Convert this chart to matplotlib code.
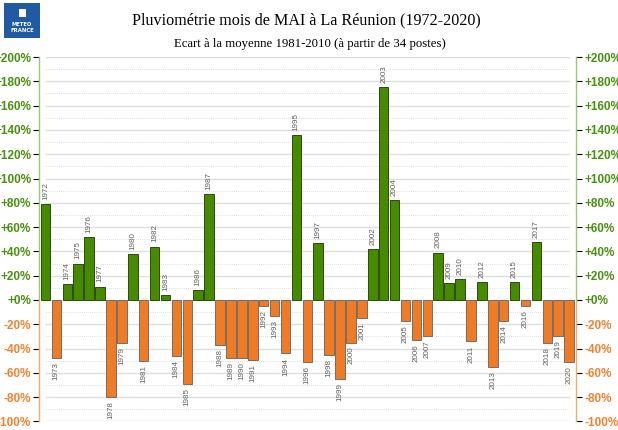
import matplotlib.pyplot as plt
from matplotlib.patches import Rectangle

YEARS = list(range(1972, 2021))
ECART = [
    79, -48, 13, 30, 52, 11, -80, -35, 38, -50,
    44, 4, -46, -69, 8, 87, -37, -48, -48, -49,
    -5, -13, -44, 136, -51, 47, -45, -65, -35, -15,
    42, 175, 82, -17, -33, -30, 39, 14, 17, -34,
    15, -55, -17, 15, -5, 48, -35, -30, -51,
]
TICKS = list(range(-100, 201, 20))
TICK_LABELS = [f"+{t}%" if t >= 0 else f"{t}%" for t in TICKS]

GREEN = "#468a00"
GREEN_EDGE = "#2e4a12"
ORANGE = "#f07b24"
ORANGE_EDGE = "#6f6f6f"
GREEN_TXT = "#4a9010"
ORANGE_TXT = "#f3822e"
GREEN_AX = "#9cc878"
ORANGE_AX = "#f6aa70"
BLUE = "#1f5aa2"


def main():
    fig = plt.figure(figsize=(6.18, 4.30), dpi=100)
    ax = fig.add_axes([0.0639, 0.0198, 0.8676, 0.8476])
    ax.set_xlim(1971.45, 2020.6)
    ax.set_ylim(-100, 200)

    # grid: solid every 20%, dotted in between
    for t in TICKS:
        ax.axhline(t, xmin=0.012, xmax=0.988, color="#dedede", linewidth=1.0, zorder=0)
    for t in range(-90, 200, 20):
        ax.axhline(t, xmin=0.012, xmax=0.988, color="#d4d4d4", linewidth=0.6,
                   linestyle=(0, (1, 1.5)), zorder=0)

    colors = [GREEN if v >= 0 else ORANGE for v in ECART]
    edges = [GREEN_EDGE if v >= 0 else ORANGE_EDGE for v in ECART]
    ax.bar(YEARS, ECART, width=0.88, color=colors, edgecolor=edges, linewidth=0.7, zorder=2)

    for y, v in zip(YEARS, ECART):
        if v >= 0:
            ax.annotate(str(y), (y, v), xytext=(0, 3), textcoords="offset points",
                        rotation=90, ha="center", va="bottom", fontsize=5.8,
                        color="#606060", family="Liberation Sans")
        else:
            ax.annotate(str(y), (y, v), xytext=(0, -3), textcoords="offset points",
                        rotation=90, ha="center", va="top", fontsize=5.8,
                        color="#606060", family="Liberation Sans")

    for s in ax.spines.values():
        s.set_visible(False)
    ax.set_xticks([])

    # coloured axis lines, both sides
    tr = ax.get_yaxis_transform()
    for xa in (0, 1):
        ax.plot([xa, xa], [0, 200], transform=tr, color=GREEN_AX, linewidth=1.0, clip_on=False)
        ax.plot([xa, xa], [-100, 0], transform=tr, color=ORANGE_AX, linewidth=1.0, clip_on=False)

    ax.set_yticks(TICKS)
    ax.set_yticklabels(TICK_LABELS)
    ax.tick_params(axis="y", left=True, right=True, labelleft=True, labelright=True,
                   length=4, width=0.8, pad=2)
    for t, tick in zip(TICKS, ax.yaxis.get_major_ticks()):
        c_txt = GREEN_TXT if t >= 0 else ORANGE_TXT
        c_ax = GREEN_AX if t >= 0 else ORANGE_AX
        tick.tick1line.set_color(c_ax)
        tick.tick2line.set_color(c_ax)
        for lab in (tick.label1, tick.label2):
            lab.set_color(c_txt)
            lab.set_fontweight("bold")
            lab.set_fontsize(8.5)
            lab.set_fontfamily("Liberation Sans")

    fig.text(0.495, 0.953, "Pluviométrie mois de MAI à La Réunion (1972-2020)",
             ha="center", va="center", fontsize=11.6, family="Liberation Serif")
    fig.text(0.501, 0.897, "Ecart à la moyenne 1981-2010 (à partir de 34 postes)",
             ha="center", va="center", fontsize=9.2, family="Liberation Serif")

    # Meteo-France logo block
    fig.patches.append(Rectangle((4 / 618, 1 - 38 / 430), 36 / 618, 35 / 430,
                                 transform=fig.transFigure, facecolor=BLUE, edgecolor="none"))
    fig.patches.append(Rectangle((18.5 / 618, 1 - 17 / 430), 7 / 618, 8 / 430,
                                 transform=fig.transFigure, facecolor="white", edgecolor="none"))
    fig.text(22 / 618, 1 - 24.5 / 430, "METEO", ha="center", va="center", fontsize=3.8,
             fontweight="bold", color="white")
    fig.text(22 / 618, 1 - 30.5 / 430, "FRANCE", ha="center", va="center", fontsize=3.8,
             fontweight="bold", color="white")

    fig.savefig("out.png", dpi=100, facecolor="white")


if __name__ == "__main__":
    main()
